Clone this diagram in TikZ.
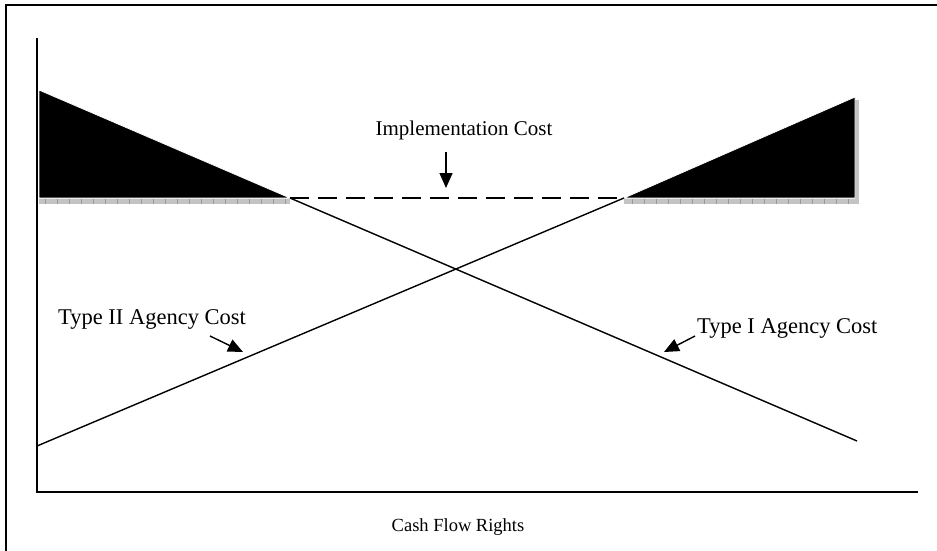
\documentclass[tikz,border=0pt]{standalone}
\usepackage{fontspec}
\setmainfont{Liberation Serif}
\usetikzlibrary{arrows.meta}
\definecolor{colShade}{HTML}{C4C4C4}
\definecolor{colTick}{HTML}{9A9A9A}
\def\lblfont{\fontsize{22.5pt}{26pt}\selectfont}
\def\implfont{\fontsize{21pt}{25pt}\selectfont}
\def\axfont{\fontsize{18.5pt}{22pt}\selectfont}
\tikzset{
  cline/.style={line width=1.4pt},
  ptr/.style={line width=1.4pt, -{Triangle[length=15pt,width=13pt]}},
  lbl/.style={font=\lblfont, inner sep=0pt, anchor=base west},
}
\newcommand{\shadestrip}[4]{%
  \fill[colShade] (#1,#2) rectangle (#3,#4);}

\begin{document}
\begin{tikzpicture}[x=1pt,y=-1pt]
\useasboundingbox (0,0) rectangle (937,550);

% frame and axes
\draw[line width=1.7pt] (6,560) -- (6,5) -- (945,5);
\coordinate (yTop) at (37,38);
\coordinate (org) at (37,492);
\coordinate (xEnd) at (918,492);
\draw[line width=1.5pt] (yTop) -- (org) -- (xEnd);

% corner points
\coordinate (topL) at (39,90);
\coordinate (baseL) at (39,198);
\coordinate (kinkL) at (290,198);
\coordinate (kinkR) at (624,198);
\coordinate (topR) at (855,97);
\coordinate (baseR) at (855,198);
\coordinate (startII) at (37,446);
\coordinate (endI) at (857,441);

% shaded strips under the blocks
\shadestrip{39}{199}{290}{204}
\shadestrip{624}{199}{859}{204}
\shadestrip{855}{100}{859}{204}
\foreach \xx in {45,57,...,285} \draw[colTick, line width=0.4pt] (\xx,199) -- (\xx,204);
\foreach \xx in {632,644,...,852} \draw[colTick, line width=0.4pt] (\xx,199) -- (\xx,204);

% black blocks
\filldraw[draw=white, line width=0.8pt, fill=black] (topL) -- (baseL) -- (kinkL) -- cycle;
\filldraw[draw=white, line width=0.8pt, fill=black] (kinkR) -- (topR) -- (baseR) -- cycle;

% implementation cost
\draw[line width=2.6pt, dash pattern=on 19pt off 9pt] (kinkL) -- (kinkR);

% agency cost lines
\draw[cline] (kinkL) -- (endI);
\draw[cline] (startII) -- (kinkR);

% labels
\node[font=\implfont, inner sep=0pt, anchor=base] (impl) at (464,135) {Implementation Cost};
\node[lbl] (typeII) at (58,324) {Type II Agency Cost};
\node[lbl] (typeI) at (697,333) {Type I Agency Cost};
\node[font=\axfont, inner sep=0pt, anchor=base] (cfr) at (458,531) {Cash Flow Rights};

% pointers
\coordinate (tailImpl) at (446,152);
\coordinate (tipImpl) at (446,188);
\coordinate (tailII) at (210,336);
\coordinate (tipII) at (243,352);
\coordinate (tailI) at (695,336);
\coordinate (tipI) at (664,352);
\draw[ptr] (tailImpl) -- (tipImpl);
\draw[ptr] (tailII) -- (tipII);
\draw[ptr] (tailI) -- (tipI);

\end{tikzpicture}
\end{document}
